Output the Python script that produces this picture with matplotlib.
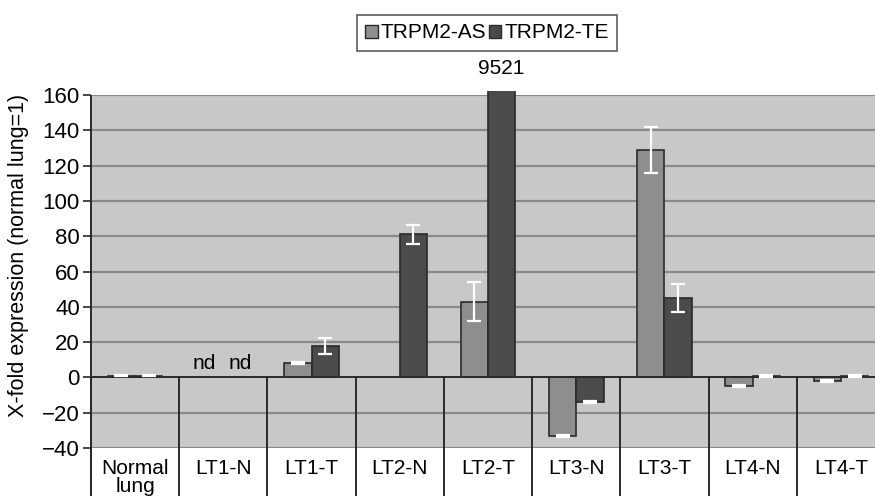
import matplotlib
matplotlib.use("Agg")
import matplotlib.pyplot as plt
from matplotlib.patches import Rectangle, Patch

plt.rcParams["font.family"] = ["Liberation Sans", "DejaVu Sans"]

# X-fold expression relative to normal lung
categories = ["Normal\nlung", "LT1-N", "LT1-T", "LT2-N", "LT2-T",
              "LT3-N", "LT3-T", "LT4-N", "LT4-T"]
as_values = [1, None, 8, 0, 43, -33, 129, -5, -2]
as_errors = [0.4, None, 0.5, 0, 11, 0.5, 13, 0.5, 0.5]
te_values = [1, None, 18, 81, 9521, -14, 45, 1, 1]
te_errors = [0.4, None, 4.5, 5.5, 0, 0.5, 8, 0.5, 0.5]
series_names = ["TRPM2-AS", "TRPM2-TE"]
y_ticks = [-40, -20, 0, 20, 40, 60, 80, 100, 120, 140, 160]

AS_COLOR = "#8e8e8e"
TE_COLOR = "#4b4b4b"
EDGE = "#2a2a2a"
BG = "#c8c8c8"
GRID = "#8a8a8a"
FS = 15

W, H = 875, 496
fig = plt.figure(figsize=(W / 100, H / 100), dpi=100)
fig.patch.set_facecolor("white")

# plot area runs a little past the right edge of the figure
left_px, right_px, top_px, bot_px = 91, 885, 95, 448
ax = fig.add_axes([left_px / W, (H - bot_px) / H,
                   (right_px - left_px) / W, (bot_px - top_px) / H])
ax.set_facecolor(BG)
ax.set_xlim(0, len(categories))
ax.set_ylim(-40, 160)

for t in y_ticks:
    if t != 0:
        ax.axhline(t, color=GRID, lw=1.6, zorder=1)
ax.axhline(0, color=EDGE, lw=1.4, zorder=4)

bw = 0.31
for i in range(len(categories)):
    for vals, errs, off, col in ((as_values, as_errors, -bw / 2, AS_COLOR),
                                 (te_values, te_errors, bw / 2, TE_COLOR)):
        v = vals[i]
        if v is None or v == 0:
            continue
        x = i + 0.5 + off
        bar = ax.bar(x, v, width=bw, color=col, edgecolor=EDGE,
                     linewidth=1.2, zorder=3)[0]
        if v > 160:
            # tall bar pokes just above the top of the plot area
            bar.set_clip_path(Rectangle((x - bw, -40), 2 * bw, 202,
                                        transform=ax.transData))
            ax.text(x, 169.5, str(v), ha="center", va="bottom",
                    fontsize=FS, clip_on=False)
        if errs[i]:
            ax.errorbar(x, v, yerr=errs[i], fmt="none", ecolor="white",
                        elinewidth=1.6, capsize=5, capthick=1.6, zorder=5)

# not detected
for i in range(len(categories)):
    if as_values[i] is None:
        ax.text(i + 0.5 - bw / 2 - 0.06, 8, "nd", ha="center", va="center",
                fontsize=FS)
    if te_values[i] is None:
        ax.text(i + 0.5 + bw / 2 + 0.04, 8, "nd", ha="center", va="center",
                fontsize=FS)

# category separators run from zero down through the label band
ax.vlines(range(len(categories)), -75, 0, color=EDGE, lw=1.4,
          clip_on=False, zorder=4)
ax.vlines(0, -75, 160, color=EDGE, lw=1.4, clip_on=False, zorder=4)

for s in ax.spines.values():
    s.set_visible(False)

ax.set_yticks(y_ticks)
ax.tick_params(axis="y", length=6, width=1.2, color=EDGE, labelsize=16,
               pad=2)
ax.set_xticks([i + 0.5 for i in range(len(categories))])
ax.set_xticklabels(categories, fontsize=FS, linespacing=0.9)
ax.tick_params(axis="x", length=0, pad=8)

ax.set_ylabel("X-fold expression (normal lung=1)", fontsize=15.5)
ax.yaxis.set_label_coords(-0.078, 0.545)

handles = [Patch(facecolor=AS_COLOR, edgecolor=EDGE),
           Patch(facecolor=TE_COLOR, edgecolor=EDGE)]
leg = fig.legend(handles, series_names, loc="center",
                 bbox_to_anchor=(487 / W, 1 - 33 / H), ncol=2,
                 fontsize=FS, frameon=True, fancybox=False,
                 handlelength=0.6, handleheight=0.6, handletextpad=0.15,
                 columnspacing=0.1, borderpad=0.4)
leg.get_frame().set_edgecolor("#333333")
leg.get_frame().set_linewidth(1.2)

fig.savefig("out.png", dpi=100)
